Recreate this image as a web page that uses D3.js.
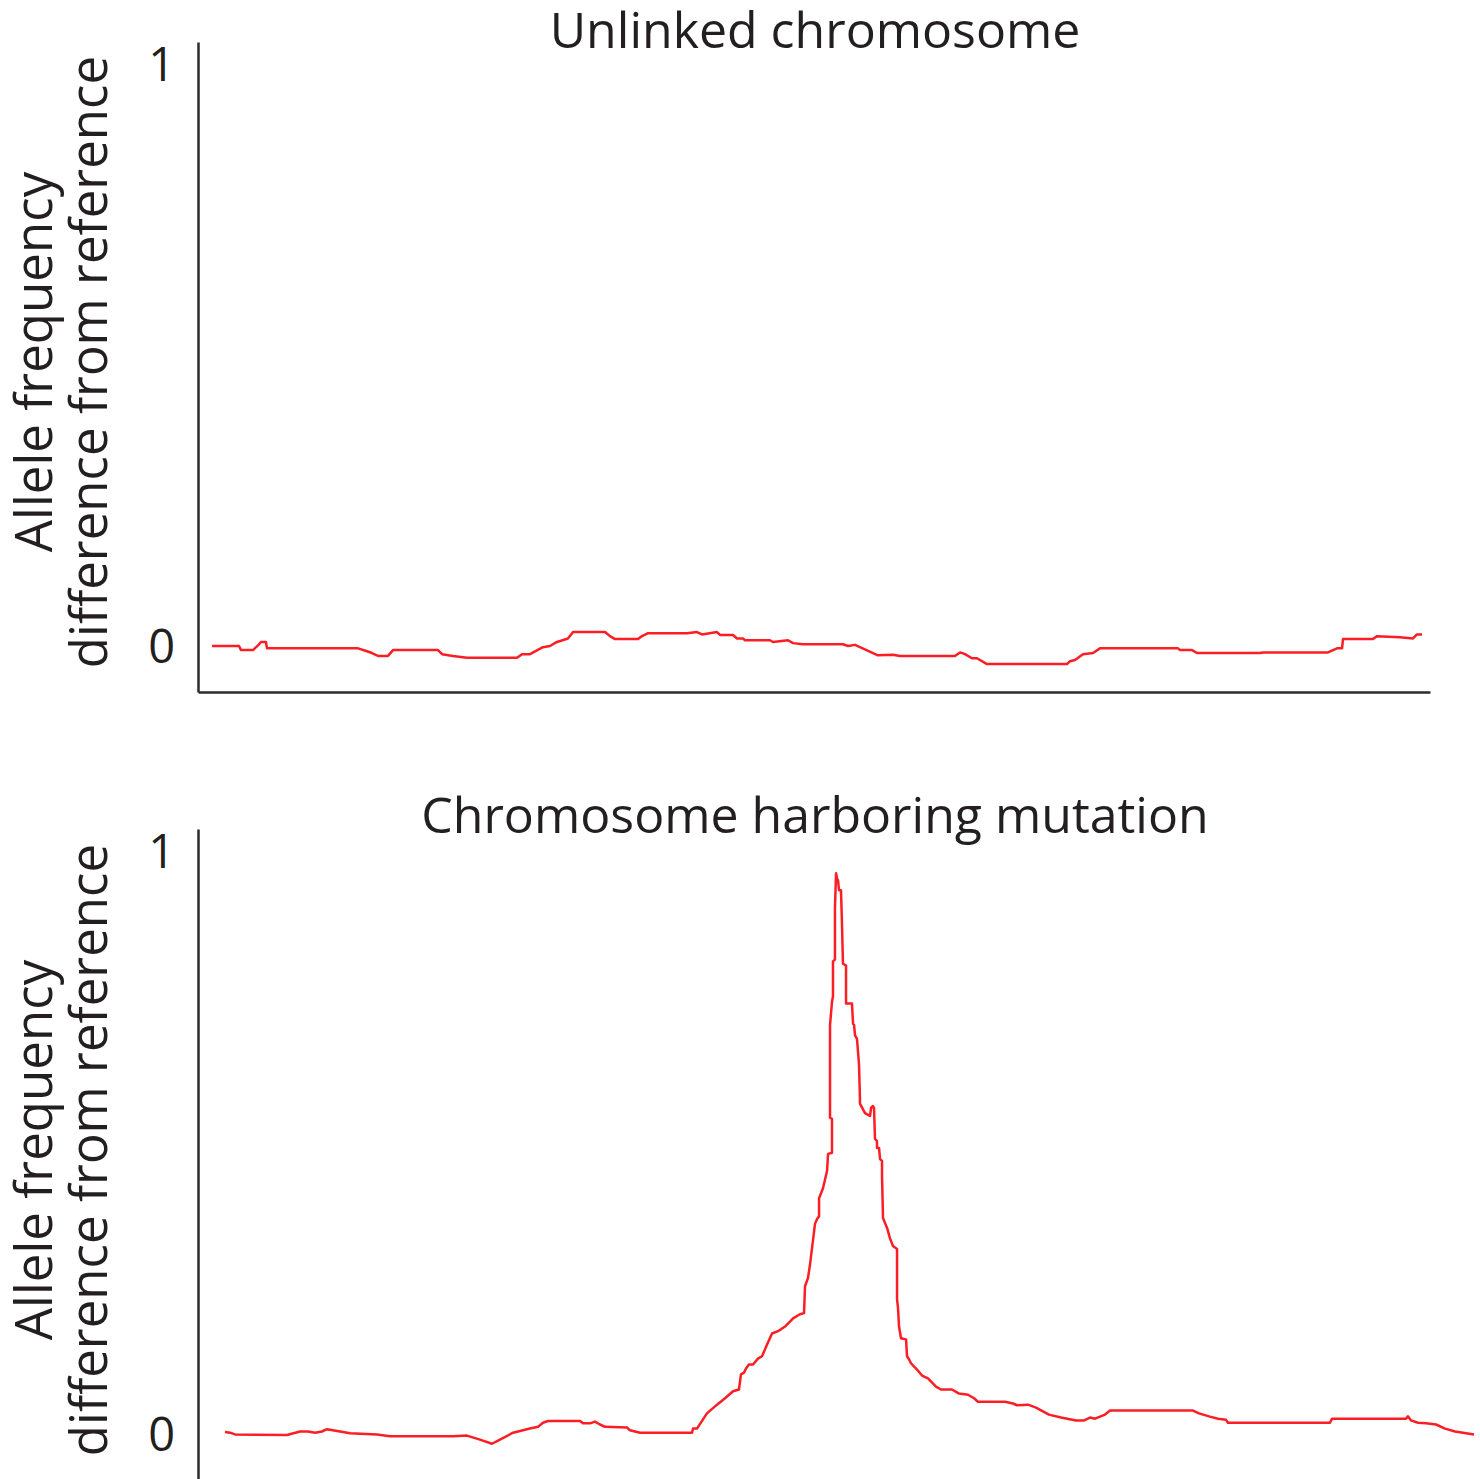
<!DOCTYPE html>
<html>
<head>
<meta charset="utf-8">
<script src="https://cdn.jsdelivr.net/npm/d3@7"></script>
<style>
  html, body { margin: 0; padding: 0; background: #ffffff; }
  svg { display: block; }
  text { font-family: "Open Sans", "Noto Sans", sans-serif; fill: #231f20; }
</style>
</head>
<body>
<svg id="chart" width="1480" height="1479"></svg>
<script>
// ---------------- data ----------------
const panelTitles = ["Unlinked chromosome", "Chromosome harboring mutation"];
const yAxisLine1 = "Allele frequency";
const yAxisLine2 = "difference from reference";
const yTickValues = [0, 1];
const yTickLabels = ["0", "1"];

// Unlinked chromosome: position along chromosome (0-100), allele frequency difference
const unlinkedPos = [1.14, 3.33, 3.49, 4.46, 4.87, 5.11, 5.52, 5.60, 12.99, 13.72, 14.12, 14.61, 15.42, 15.83, 19.48, 19.81, 20.70, 21.83, 25.89, 26.30, 26.95, 28.00, 28.57, 29.14, 30.03, 30.44, 33.04, 33.44, 33.85, 35.71, 36.04, 36.53, 39.69, 40.50, 40.91, 42.13, 42.37, 43.43, 43.75, 44.24, 44.40, 46.43, 46.67, 47.89, 48.30, 49.11, 52.35, 52.76, 53.33, 55.19, 56.41, 56.98, 61.44, 61.85, 62.26, 62.82, 63.23, 64.04, 70.54, 70.78, 71.19, 71.83, 72.65, 73.21, 79.55, 79.71, 80.68, 81.09, 86.20, 86.44, 91.72, 92.45, 92.86, 92.94, 95.37, 95.70, 97.56, 98.62, 98.94, 99.35];
const unlinkedVal = [0.002, 0.002, -0.005, -0.005, 0.003, 0.009, 0.009, -0.002, -0.002, -0.007, -0.010, -0.015, -0.015, -0.005, -0.005, -0.012, -0.015, -0.018, -0.018, -0.012, -0.012, 0.000, 0.002, 0.009, 0.015, 0.026, 0.026, 0.019, 0.014, 0.014, 0.019, 0.024, 0.024, 0.026, 0.022, 0.026, 0.021, 0.021, 0.015, 0.015, 0.012, 0.012, 0.009, 0.012, 0.007, 0.005, 0.005, 0.002, 0.004, -0.014, -0.013, -0.015, -0.015, -0.009, -0.012, -0.019, -0.019, -0.029, -0.029, -0.024, -0.022, -0.012, -0.010, -0.002, -0.002, -0.005, -0.005, -0.010, -0.010, -0.009, -0.009, -0.002, -0.002, 0.014, 0.014, 0.019, 0.017, 0.015, 0.022, 0.022];

// Chromosome harboring mutation
const mutantPos = [2.19, 2.60, 3.00, 7.22, 8.28, 8.93, 9.50, 10.06, 10.47, 11.53, 12.34, 14.53, 15.58, 20.70, 21.83, 22.89, 23.86, 24.51, 25.57, 26.95, 27.60, 28.00, 28.41, 31.01, 31.25, 31.82, 32.22, 32.63, 33.04, 34.82, 35.06, 35.88, 40.10, 40.18, 40.50, 41.31, 42.13, 42.78, 43.43, 43.91, 44.07, 44.32, 44.48, 44.72, 45.05, 45.45, 45.78, 46.19, 46.59, 47.08, 47.65, 48.30, 48.86, 49.19, 49.27, 49.51, 49.68, 50.08, 50.24, 50.41, 50.41, 50.73, 51.06, 51.14, 51.46, 51.46, 51.30, 51.30, 51.46, 51.54, 51.54, 51.70, 51.70, 51.79, 51.87, 51.95, 52.03, 52.19, 52.27, 52.35, 52.60, 52.60, 53.08, 53.17, 53.25, 53.33, 53.49, 53.65, 53.73, 53.73, 54.14, 54.55, 54.63, 54.79, 54.87, 54.95, 55.11, 55.11, 55.28, 55.36, 55.52, 55.52, 55.60, 55.93, 56.17, 56.41, 56.74, 56.74, 56.82, 56.90, 57.06, 57.47, 57.55, 57.71, 57.87, 58.36, 58.77, 59.25, 59.90, 60.31, 61.20, 61.77, 62.50, 62.99, 63.31, 65.50, 66.15, 66.48, 67.37, 68.02, 69.07, 70.05, 71.27, 71.92, 72.40, 72.81, 73.62, 74.03, 80.76, 81.25, 82.06, 82.79, 83.44, 83.60, 91.88, 92.05, 98.05, 98.21, 98.46, 99.03, 99.68, 100.49, 101.22, 102.03, 102.68, 103.57];
const mutantVal = [0.006, 0.005, 0.002, 0.001, 0.007, 0.007, 0.005, 0.007, 0.011, 0.007, 0.004, 0.002, -0.001, -0.001, 0.000, -0.007, -0.014, -0.007, 0.005, 0.012, 0.015, 0.022, 0.025, 0.025, 0.021, 0.021, 0.024, 0.019, 0.015, 0.014, 0.009, 0.005, 0.005, 0.012, 0.012, 0.038, 0.053, 0.064, 0.076, 0.079, 0.105, 0.108, 0.115, 0.122, 0.122, 0.132, 0.136, 0.156, 0.175, 0.179, 0.187, 0.201, 0.208, 0.210, 0.256, 0.270, 0.294, 0.363, 0.371, 0.376, 0.407, 0.424, 0.454, 0.483, 0.485, 0.543, 0.545, 0.704, 0.744, 0.753, 0.813, 0.816, 0.904, 0.964, 0.955, 0.952, 0.935, 0.935, 0.878, 0.809, 0.806, 0.741, 0.741, 0.706, 0.704, 0.686, 0.680, 0.637, 0.577, 0.569, 0.553, 0.548, 0.562, 0.565, 0.562, 0.509, 0.505, 0.493, 0.493, 0.474, 0.471, 0.445, 0.373, 0.356, 0.338, 0.325, 0.320, 0.234, 0.218, 0.187, 0.167, 0.165, 0.136, 0.131, 0.124, 0.113, 0.103, 0.098, 0.084, 0.079, 0.079, 0.072, 0.070, 0.064, 0.058, 0.058, 0.055, 0.052, 0.053, 0.048, 0.036, 0.031, 0.026, 0.026, 0.031, 0.029, 0.036, 0.043, 0.043, 0.038, 0.033, 0.029, 0.027, 0.022, 0.022, 0.029, 0.029, 0.033, 0.026, 0.022, 0.021, 0.019, 0.012, 0.007, 0.005, 0.002];

// ---------------- drawing ----------------
const svg = d3.select("#chart");
const lineColor = "#fb1e24";
const axisColor = "#2b2b2b";

const panels = [
  { title: panelTitles[0], pos: unlinkedPos, val: unlinkedVal, top: 42, bottom: 692, xDomain: [0, 100], xRight: 1430, titleY: 48, labelMid: 362 },
  { title: panelTitles[1], pos: mutantPos, val: mutantVal, top: 829, bottom: 1480.5, xDomain: [0, 104], xRight: 1479.3, titleY: 833, labelMid: 1150 }
];

panels.forEach(p => {
  const g = svg.append("g");
  const x = d3.scaleLinear().domain(p.xDomain).range([198, p.xRight]);
  const y = d3.scaleLinear().domain([-0.077, 1.04]).range([p.bottom, p.top]);

  // y axis
  const yAxis = d3.axisLeft(y)
    .tickValues(yTickValues)
    .tickFormat((d, i) => yTickLabels[i])
    .tickSize(0)
    .tickSizeOuter(0)
    .tickPadding(23);
  const ya = g.append("g").attr("transform", "translate(198,0)").call(yAxis);
  ya.select(".domain").attr("stroke", axisColor).attr("stroke-width", 2.5);
  ya.selectAll("text")
    .attr("font-size", 47)
    .attr("fill", "#231f20")
    .style("font-family", "'Open Sans', sans-serif");

  // x axis (no ticks)
  const xAxis = d3.axisBottom(x).tickValues([]).tickSizeOuter(0);
  const xa = g.append("g").attr("transform", `translate(0,${p.bottom})`).call(xAxis);
  xa.select(".domain").attr("stroke", axisColor).attr("stroke-width", 2.5);

  // data line
  const data = p.pos.map((d, i) => [d, p.val[i]]);
  const line = d3.line().x(d => x(d[0])).y(d => y(d[1]));
  g.append("path")
    .datum(data)
    .attr("fill", "none")
    .attr("stroke", lineColor)
    .attr("stroke-width", 2.5)
    .attr("stroke-linejoin", "round")
    .attr("d", line);

  // title
  g.append("text")
    .attr("x", 815)
    .attr("y", p.titleY)
    .attr("text-anchor", "middle")
    .attr("font-size", 50)
    .text(p.title);

  // y axis label (two rotated lines)
  g.append("text")
    .attr("transform", `translate(52,${p.labelMid}) rotate(-90)`)
    .attr("text-anchor", "middle")
    .attr("font-size", 51)
    .text(yAxisLine1);
  g.append("text")
    .attr("transform", `translate(107,${p.labelMid}) rotate(-90)`)
    .attr("text-anchor", "middle")
    .attr("font-size", 51)
    .text(yAxisLine2);
});
</script>
</body>
</html>
